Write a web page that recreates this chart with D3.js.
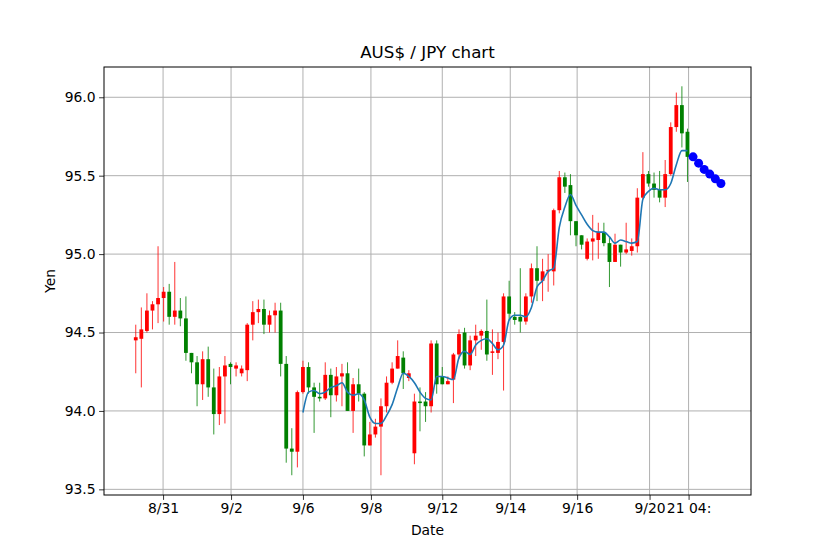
<!DOCTYPE html>
<html>
<head>
<meta charset="utf-8">
<script src="https://cdn.jsdelivr.net/npm/d3@7"></script>
<style>
  body { margin: 0; background: #fff; }
  text { font-family: "DejaVu Sans", sans-serif; }
</style>
</head>
<body>
<svg id="chart" width="834" height="556"></svg>
<script>
"use strict";

const openPx = [94.45,94.46,94.51,94.64,94.68,94.72,94.76,94.60,94.64,94.59,
  94.37,94.31,94.17,94.33,94.15,93.98,94.22,94.30,94.27,94.24,
  94.26,94.55,94.63,94.65,94.55,94.61,94.64,94.30,93.76,93.74,
  94.12,94.28,94.15,94.09,94.08,94.23,94.10,94.22,94.24,94.00,
  94.17,94.11,93.78,93.85,93.90,94.03,94.18,94.27,94.34,94.21,
  93.73,94.06,94.06,94.03,94.43,94.22,94.17,94.20,94.36,94.50,
  94.29,94.45,94.48,94.51,94.37,94.37,94.44,94.73,94.60,94.60,
  94.57,94.73,94.91,94.83,94.89,94.89,95.28,95.49,95.44,95.21,
  95.12,94.97,95.08,95.09,95.14,95.07,94.95,95.06,95.01,95.02,
  95.05,95.36,95.51,95.45,95.41,95.36,95.51,95.81,95.95,95.78];
const closePx = [94.47,94.52,94.64,94.68,94.72,94.76,94.60,94.64,94.59,94.37,
  94.31,94.17,94.33,94.15,93.98,94.22,94.29,94.28,94.29,94.27,
  94.55,94.63,94.65,94.55,94.61,94.64,94.30,93.76,93.74,94.12,
  94.28,94.15,94.09,94.08,94.23,94.10,94.22,94.24,94.00,94.17,
  94.11,93.78,93.85,93.90,94.03,94.18,94.27,94.35,94.24,94.24,
  94.06,94.05,94.03,94.43,94.17,94.17,94.19,94.36,94.49,94.29,
  94.45,94.48,94.51,94.36,94.38,94.44,94.73,94.62,94.58,94.57,
  94.73,94.91,94.83,94.89,94.90,95.28,95.49,95.43,95.21,95.12,
  95.06,95.08,95.10,95.14,95.07,94.95,95.06,95.01,95.03,95.05,
  95.36,95.51,95.45,95.41,95.36,95.51,95.81,95.95,95.77,95.62];
const highPx = [94.55,94.66,94.75,94.70,95.05,94.79,94.81,94.95,94.72,94.73,
  94.37,94.35,94.38,94.41,94.27,94.28,94.35,94.31,94.31,94.29,
  94.56,94.70,94.71,94.71,94.64,94.69,94.69,94.35,93.89,94.13,
  94.32,94.31,94.18,94.18,94.31,94.27,94.28,94.30,94.31,94.21,
  94.27,94.12,93.93,93.95,94.08,94.22,94.31,94.45,94.38,94.26,
  94.11,94.15,94.12,94.45,94.45,94.28,94.22,94.37,94.52,94.53,
  94.48,94.55,94.52,94.71,94.52,94.50,94.75,94.83,94.63,94.91,
  94.75,94.94,95.05,94.97,95.00,95.29,95.53,95.52,95.51,95.21,
  95.12,95.10,95.25,95.20,95.20,95.11,95.13,95.06,95.20,95.10,
  95.42,95.65,95.53,95.52,95.53,95.60,95.84,96.03,96.07,95.80];
const lowPx = [94.24,94.15,94.50,94.52,94.56,94.57,94.55,94.55,94.54,94.32,
  94.24,94.03,94.07,94.09,93.85,93.91,93.92,94.17,94.22,94.22,
  94.19,94.45,94.56,94.49,94.50,94.50,94.22,93.67,93.59,93.64,
  94.11,94.11,93.86,94.06,94.07,93.96,94.06,94.03,94.00,93.86,
  94.06,93.71,93.78,93.83,93.59,93.99,94.17,94.27,94.14,94.19,
  93.66,93.87,93.93,93.99,94.11,94.17,94.17,94.05,94.33,94.27,
  94.26,94.35,94.39,94.32,94.23,94.33,94.13,94.58,94.55,94.50,
  94.55,94.69,94.70,94.70,94.76,94.80,95.26,95.39,95.12,95.05,
  95.03,94.96,94.96,94.97,95.05,94.79,94.95,94.92,95.00,94.99,
  95.01,95.35,95.43,95.36,95.33,95.30,95.50,95.78,95.68,95.46];

// smoothed line, starts at candle 30
const lineStart = 30;
const lineVals = [93.99,94.12,94.13,94.11,94.12,94.15,94.16,94.18,94.12,94.10,
  94.11,94.07,93.96,93.92,93.92,93.97,94.04,94.15,94.24,94.22,
  94.18,94.12,94.08,94.07,94.22,94.22,94.21,94.20,94.34,94.38,
  94.36,94.42,94.45,94.46,94.43,94.39,94.42,94.58,94.61,94.61,
  94.60,94.66,94.79,94.83,94.89,94.91,95.17,95.30,95.38,95.31,
  95.25,95.19,95.15,95.14,95.14,95.11,95.07,95.09,95.08,95.07,
  95.08,95.35,95.40,95.42,95.41,95.41,95.45,95.57,95.66,95.66];

// forecast points after the last candle
const fcStart = 100;
const fcVals = [95.62,95.58,95.54,95.51,95.48,95.45];

const tickIdx = [4.9,17.1,30,42.2,55,67.2,79.2,92.2,99.2];
const tickLabels = ["8/31","9/2","9/6","9/8","9/12","9/14","9/16","9/20","21 04:"];
const yTicks = [93.5,94.0,94.5,95.0,95.5,96.0];

const svg = d3.select("#chart");
const m = {left: 104, top: 67, right: 751, bottom: 495};

const x = d3.scaleLinear().domain([-5.7, 110.4]).range([m.left, m.right]);
const y = d3.scaleLinear().domain([93.464, 96.193]).range([m.bottom, m.top]);

// grid
const g = svg.append("g");
g.selectAll(".vg").data(tickIdx).enter().append("line")
  .attr("x1", d => x(d)).attr("x2", d => x(d))
  .attr("y1", m.top).attr("y2", m.bottom)
  .attr("stroke", "#b0b0b0").attr("stroke-width", 1);
g.selectAll(".hg").data(yTicks).enter().append("line")
  .attr("x1", m.left).attr("x2", m.right)
  .attr("y1", d => y(d)).attr("y2", d => y(d))
  .attr("stroke", "#b0b0b0").attr("stroke-width", 1);

// candles
const bw = 3.8;
const candles = svg.append("g");
openPx.forEach((o, i) => {
  const c = closePx[i];
  const col = c >= o ? "#ff0000" : "#008000";
  candles.append("line")
    .attr("x1", x(i)).attr("x2", x(i))
    .attr("y1", y(highPx[i])).attr("y2", y(lowPx[i]))
    .attr("stroke", col).attr("stroke-width", 1).attr("opacity", 0.8);
  const top = y(Math.max(o, c)), bot = y(Math.min(o, c));
  candles.append("rect")
    .attr("x", x(i) - bw / 2).attr("width", bw)
    .attr("y", top).attr("height", Math.max(1.5, bot - top))
    .attr("fill", col);
});

// smoothed line
const line = d3.line()
  .x((d, i) => x(lineStart + i))
  .y(d => y(d))
  .curve(d3.curveMonotoneX);
svg.append("path").datum(lineVals)
  .attr("d", line)
  .attr("fill", "none")
  .attr("stroke", "#1f77b4")
  .attr("stroke-width", 1.6);

// forecast dots
svg.append("g").selectAll("circle").data(fcVals).enter().append("circle")
  .attr("cx", (d, i) => x(fcStart + i))
  .attr("cy", d => y(d))
  .attr("r", 4.5)
  .attr("fill", "blue");

// axes
const xAxis = d3.axisBottom(x).tickValues(tickIdx)
  .tickFormat((d, i) => tickLabels[i]).tickSizeOuter(0).tickSize(4.9).tickPadding(3.5);
const yAxis = d3.axisLeft(y).tickValues(yTicks)
  .tickFormat(d3.format(".1f")).tickSizeOuter(0).tickSize(4.9).tickPadding(3.5);

const xa = svg.append("g").attr("transform", `translate(0,${m.bottom})`).call(xAxis);
const ya = svg.append("g").attr("transform", `translate(${m.left},0)`).call(yAxis);
[xa, ya].forEach(a => {
  a.select(".domain").remove();
  a.selectAll("text").attr("font-size", 13.9).attr("fill", "#000")
    .style("font-family", "DejaVu Sans");
  a.selectAll("line").attr("stroke", "#000").attr("stroke-width", 0.8);
});

// frame
svg.append("rect")
  .attr("x", m.left).attr("y", m.top)
  .attr("width", m.right - m.left).attr("height", m.bottom - m.top)
  .attr("fill", "none").attr("stroke", "#000").attr("stroke-width", 1);

// labels
svg.append("text").attr("x", (m.left + m.right) / 2).attr("y", 58)
  .attr("text-anchor", "middle").attr("font-size", 16.7).text("AUS$ / JPY chart");
svg.append("text").attr("x", (m.left + m.right) / 2).attr("y", 535)
  .attr("text-anchor", "middle").attr("font-size", 13.9).text("Date");
svg.append("text")
  .attr("transform", `translate(55,${(m.top + m.bottom) / 2}) rotate(-90)`)
  .attr("text-anchor", "middle").attr("font-size", 13.9).text("Yen");
</script>
</body>
</html>
